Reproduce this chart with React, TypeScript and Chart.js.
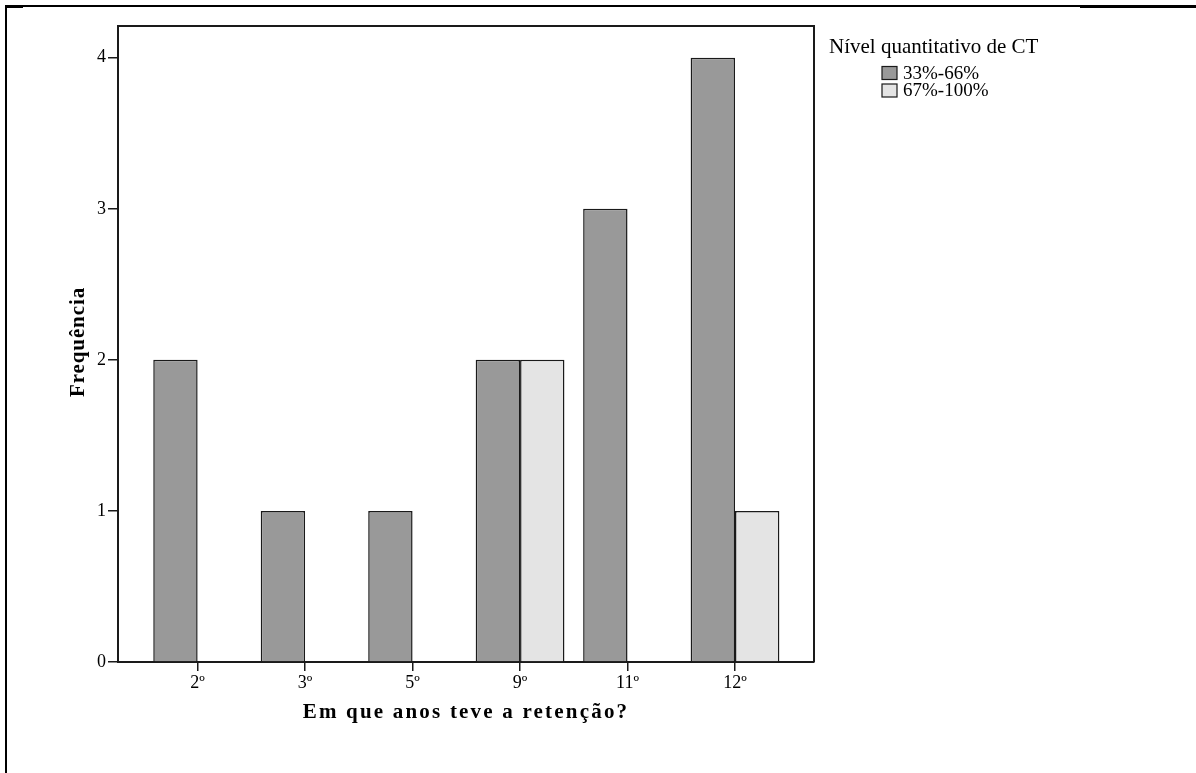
import React, { useEffect, useRef } from "react";
import { Chart, registerables } from "chart.js";

Chart.register(...registerables);

const categories = ["2º", "3º", "5º", "9º", "11º", "12º"];
const seriesLow: (number | null)[] = [2, 1, 1, 2, 3, 4];
const seriesHigh: (number | null)[] = [null, null, null, 2, null, 1];
const seriesNames = ["33%-66%", "67%-100%"];
const seriesColors = ["#999999", "#e4e4e4"];
const yTickValues = [0, 1, 2, 3, 4];
const legendTitle = "Nível quantitativo de CT";
const xTitle = "Em que anos teve a retenção?";
const yTitle = "Frequência";

const SERIF = "'Liberation Serif', 'Times New Roman', serif";
const INK = "#1a1a1a";

const decorPlugin = {
  id: "decor",
  beforeDraw(chart: any) {
    const ctx = chart.ctx;
    ctx.save();
    ctx.fillStyle = "#ffffff";
    ctx.fillRect(0, 0, chart.width, chart.height);
    ctx.fillStyle = "#000000";
    ctx.fillRect(5, 5, chart.width - 5, 2);
    ctx.fillRect(5, 5, 2, chart.height - 5);
    ctx.fillRect(5, 5, 18, 3);
    ctx.fillRect(1080, 5, chart.width - 1080, 3);
    ctx.restore();
  },
  afterDraw(chart: any) {
    const ctx = chart.ctx;
    const a = chart.chartArea;
    ctx.save();
    // plot frame top & right
    ctx.strokeStyle = INK;
    ctx.lineWidth = 2;
    ctx.beginPath();
    ctx.moveTo(a.left, a.top);
    ctx.lineTo(a.right, a.top);
    ctx.lineTo(a.right, a.bottom);
    ctx.stroke();

    // axis titles
    ctx.fillStyle = "#000";
    ctx.textBaseline = "alphabetic";
    ctx.textAlign = "center";
    ctx.font = `bold 21px ${SERIF}`;
    (ctx as any).letterSpacing = "2.2px";
    ctx.fillText(xTitle, (a.left + a.right) / 2, a.bottom + 56);

    (ctx as any).letterSpacing = "0.9px";
    ctx.save();
    ctx.translate(84, (a.top + a.bottom) / 2 - 2);
    ctx.rotate(-Math.PI / 2);
    ctx.fillText(yTitle, 0, 0);
    ctx.restore();

    // legend
    (ctx as any).letterSpacing = "0px";
    ctx.textAlign = "left";
    ctx.font = `21px ${SERIF}`;
    ctx.fillText(legendTitle, a.right + 15, 53);
    ctx.font = `19px ${SERIF}`;
    chart.data.datasets.forEach((ds: any, i: number) => {
      const y = 66.5 + i * 17.5;
      ctx.fillStyle = ds.backgroundColor;
      ctx.fillRect(882, y, 15, 13);
      ctx.strokeStyle = INK;
      ctx.lineWidth = 1.2;
      ctx.strokeRect(882, y, 15, 13);
      ctx.fillStyle = "#000";
      ctx.fillText(ds.label, 903, y + 12);
    });
    ctx.restore();
  },
};

export default function App() {
  const ref = useRef<HTMLCanvasElement>(null);

  useEffect(() => {
    document.body.style.margin = "0";
    const canvas = ref.current;
    if (!canvas) return;
    const chart = new Chart(canvas, {
      type: "bar",
      data: {
        datasets: [
          {
            label: seriesNames[0],
            data: categories.map((_, i) => ({ x: i, y: seriesLow[i] })) as any,
            backgroundColor: seriesColors[0],
            borderColor: INK,
            borderWidth: 1.5,
          },
          {
            label: seriesNames[1],
            data: categories.map((_, i) => ({ x: i, y: seriesHigh[i] })) as any,
            backgroundColor: seriesColors[1],
            borderColor: INK,
            borderWidth: 1.5,
          },
        ],
      },
      options: {
        responsive: false,
        animation: false,
        devicePixelRatio: 1,
        layout: { padding: { left: 78, right: 382, top: 26, bottom: 71 } },
        datasets: { bar: { categoryPercentage: 0.826, barPercentage: 1 } } as any,
        plugins: {
          legend: { display: false },
          tooltip: { enabled: false },
          title: { display: false },
        },
        scales: {
          x: {
            type: "linear",
            min: -0.741,
            max: 5.735,
            offset: false,
            afterBuildTicks: (s: any) => {
              s.ticks = categories.map((_, i) => ({ value: i }));
            },
            afterFit: (s: any) => {
              s.height = 40;
            },
            grid: {
              display: true,
              drawOnChartArea: false,
              drawTicks: true,
              tickLength: 9,
              color: INK,
              lineWidth: 1.5,
              offset: false,
            },
            border: { display: true, color: INK, width: 2 },
            ticks: {
              callback: (_v: any, i: number) => categories[i],
              font: { family: SERIF, size: 18 },
              color: "#000",
              padding: 1,
              maxRotation: 0,
              autoSkip: false,
            },
          } as any,
          y: {
            type: "linear",
            min: 0,
            max: 4.21,
            afterBuildTicks: (s: any) => {
              s.ticks = yTickValues.map((v) => ({ value: v }));
            },
            afterFit: (s: any) => {
              s.width = 40;
            },
            grid: {
              display: true,
              drawOnChartArea: false,
              drawTicks: true,
              tickLength: 10,
              color: INK,
              lineWidth: 1.5,
            },
            border: { display: true, color: INK, width: 2 },
            ticks: {
              font: { family: SERIF, size: 18 },
              color: "#000",
              padding: 2,
            },
          } as any,
        },
      },
      plugins: [decorPlugin],
    });
    return () => chart.destroy();
  }, []);

  return (
    <canvas
      ref={ref}
      width={1196}
      height={773}
      style={{ display: "block", width: 1196, height: 773 }}
    />
  );
}
